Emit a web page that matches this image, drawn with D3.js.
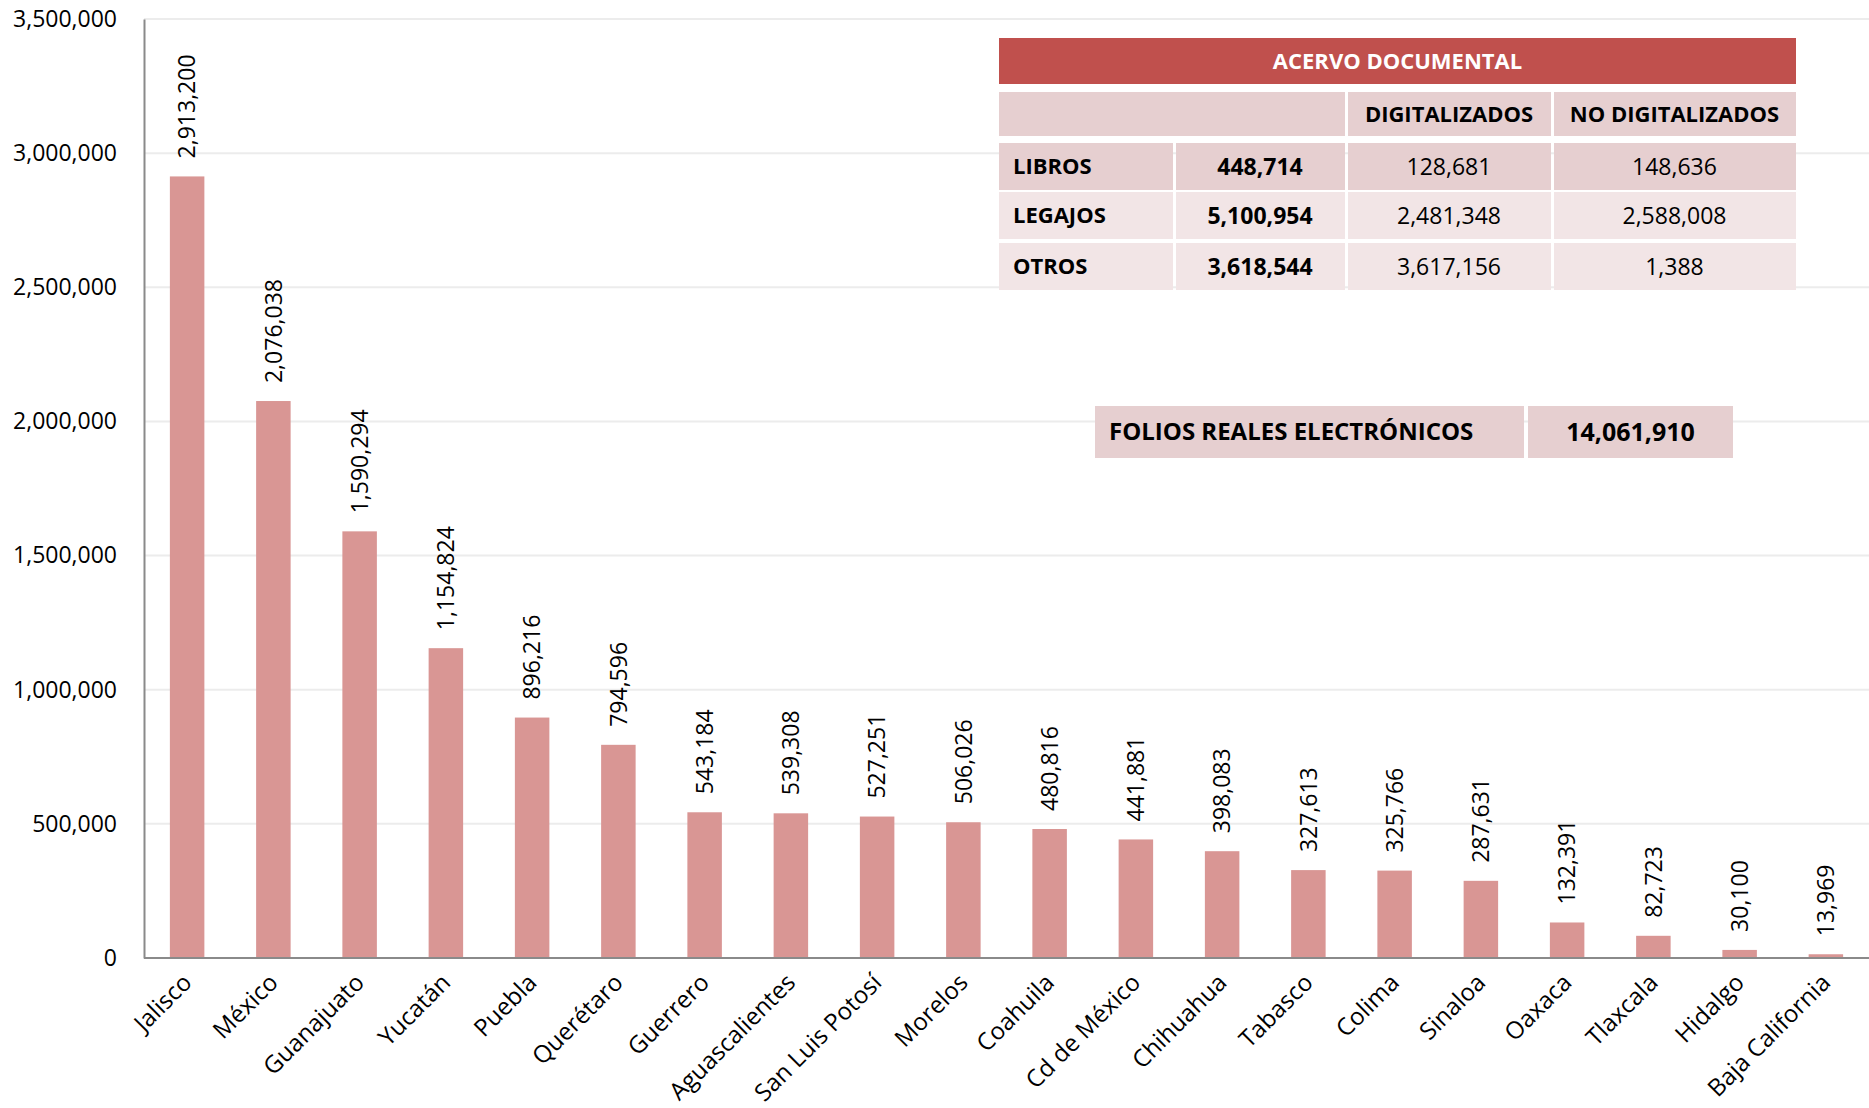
<!DOCTYPE html>
<html>
<head>
<meta charset="utf-8">
<script src="https://cdn.jsdelivr.net/npm/d3@7"></script>
<style>
  body { margin: 0; background: #fff; }
  .tick text { fill: #000; }
</style>
</head>
<body>
<div id="chart-area"></div>
<script>
// Data
const states = ["Jalisco", "México", "Guanajuato", "Yucatán", "Puebla", "Querétaro", "Guerrero",
  "Aguascalientes", "San Luis Potosí", "Morelos", "Coahuila", "Cd de México", "Chihuahua",
  "Tabasco", "Colima", "Sinaloa", "Oaxaca", "Tlaxcala", "Hidalgo", "Baja California"];
const folios = [2913200, 2076038, 1590294, 1154824, 896216, 794596, 543184, 539308, 527251,
  506026, 480816, 441881, 398083, 327613, 325766, 287631, 132391, 82723, 30100, 13969];
const yTicks = [0, 500000, 1000000, 1500000, 2000000, 2500000, 3000000, 3500000];

const tableTitle = "ACERVO DOCUMENTAL";
const tableHeads = ["", "DIGITALIZADOS", "NO DIGITALIZADOS"];
const tableRows = ["LIBROS", "LEGAJOS", "OTROS"];
const tableTotals = [448714, 5100954, 3618544];
const tableDigit = [128681, 2481348, 3617156];
const tableNoDigit = [148636, 2588008, 1388];
const foliosLabel = "FOLIOS REALES ELECTRÓNICOS";
const foliosTotal = 14061910;

const W = 1869, H = 1108;
const margin = {left: 144, right: 0, top: 19, bottom: 150};
const plotH = H - margin.top - margin.bottom; // 0 at y=958

const fmt = d3.format(",");
const sans = "'Open Sans', sans-serif";

const svg = d3.select("#chart-area").append("svg")
  .attr("width", W)
  .attr("height", H)
  .style("background", "#fff");

// Scales
const x = d3.scaleBand().domain(states)
  .range([margin.left, W - margin.right])
  .paddingInner(0.6).paddingOuter(0.3);
const y = d3.scaleLinear().domain([0, 3500000])
  .range([margin.top + plotH, margin.top]);

// Gridlines
svg.append("g").selectAll("line")
  .data(yTicks.filter(d => d > 0))
  .join("line")
  .attr("x1", margin.left).attr("x2", W)
  .attr("y1", d => y(d)).attr("y2", d => y(d))
  .attr("stroke", "#ececec")
  .attr("stroke-width", 2);

// Y axis
const yAxis = svg.append("g")
  .attr("transform", "translate(" + margin.left + ",0)")
  .call(d3.axisLeft(y).tickValues(yTicks).tickSize(0).tickPadding(27).tickFormat(fmt));
yAxis.select(".domain").attr("stroke", "#8a8a8a").attr("stroke-width", 2);
yAxis.selectAll("text").style("font-family", sans).style("font-size", "23px");

// Bars
svg.append("g").selectAll("rect")
  .data(folios)
  .join("rect")
  .attr("x", (d, i) => x(states[i]))
  .attr("width", x.bandwidth())
  .attr("y", d => y(d))
  .attr("height", d => y(0) - y(d))
  .attr("fill", "#d99694");

// X axis
const xAxis = svg.append("g")
  .attr("transform", "translate(0," + y(0) + ")")
  .call(d3.axisBottom(x).tickSize(0).tickPadding(0));
xAxis.select(".domain").attr("stroke", "#8a8a8a").attr("stroke-width", 2)
  .attr("d", "M" + margin.left + ",0H" + W);
xAxis.selectAll("text")
  .style("font-family", sans)
  .style("font-size", "24px")
  .attr("text-anchor", "end")
  .attr("dy", 0)
  .attr("transform", "translate(6,26) rotate(-45)");

// Value labels
svg.append("g").selectAll("text")
  .data(folios)
  .join("text")
  .attr("transform", (d, i) => "translate(" + (x(states[i]) + x.bandwidth() / 2) + "," + (y(d) - 18) + ") rotate(-90)")
  .attr("dy", "0.36em")
  .style("font-family", sans)
  .style("font-size", "23px")
  .attr("fill", "#000")
  .text(d => fmt(d));

/******************************** Table ********************************/
const colX = [999, 1173, 1345, 1551, 1796];
const gap = 3;
const table = svg.append("g").style("font-family", sans).style("font-size", "22px");

// Title bar
table.append("rect")
  .attr("x", colX[0]).attr("y", 38)
  .attr("width", colX[4] - colX[0]).attr("height", 46)
  .attr("fill", "#c0504d");
table.append("text")
  .attr("x", (colX[0] + colX[4]) / 2).attr("y", 61)
  .attr("dy", "0.35em").attr("text-anchor", "middle")
  .attr("fill", "#fff").style("font-weight", "bold")
  .text(tableTitle);

// Header row
const headCells = [[colX[0], colX[2]], [colX[2], colX[3]], [colX[3], colX[4]]];
table.append("g").selectAll("rect")
  .data(headCells)
  .join("rect")
  .attr("x", (d, i) => d[0] + (i > 0 ? gap : 0))
  .attr("width", (d, i) => d[1] - d[0] - (i > 0 ? gap : 0))
  .attr("y", 92).attr("height", 44)
  .attr("fill", "#e6cfd0");
table.append("g").selectAll("text")
  .data(tableHeads)
  .join("text")
  .attr("x", (d, i) => (headCells[i][0] + headCells[i][1]) / 2 + 1)
  .attr("y", 114).attr("dy", "0.35em")
  .attr("text-anchor", "middle").style("font-weight", "bold")
  .text(d => d);

// Body rows
const rowY = [143, 192, 243];
const rowH = 47;
const rowFill = ["#e6cfd0", "#f2e5e6", "#f2e5e6"];
const rows = table.append("g").selectAll("g")
  .data(tableRows)
  .join("g")
  .attr("transform", (d, i) => "translate(0," + rowY[i] + ")");
rows.each(function (label, i) {
  const r = d3.select(this);
  const vals = [null, tableTotals[i], tableDigit[i], tableNoDigit[i]];
  for (let c = 0; c < 4; c++) {
    r.append("rect")
      .attr("x", colX[c] + (c > 0 ? gap : 0))
      .attr("width", colX[c + 1] - colX[c] - (c > 0 ? gap : 0))
      .attr("height", rowH)
      .attr("fill", rowFill[i]);
  }
  r.append("text")
    .attr("x", colX[0] + 14).attr("y", rowH / 2).attr("dy", "0.35em")
    .style("font-weight", "bold").text(label);
  for (let c = 1; c < 4; c++) {
    r.append("text")
      .attr("x", (colX[c] + colX[c + 1]) / 2 + 1)
      .attr("y", rowH / 2).attr("dy", "0.35em")
      .attr("text-anchor", "middle")
      .style("font-size", "23px")
      .style("font-weight", c === 1 ? "bold" : "normal")
      .text(fmt(vals[c]));
  }
});

// Folios box
const folX = [1095, 1524, 1528, 1733];
const fol = svg.append("g").style("font-family", sans).style("font-weight", "bold");
fol.append("rect").attr("x", folX[0]).attr("y", 406).attr("width", folX[1] - folX[0]).attr("height", 52).attr("fill", "#e6cfd0");
fol.append("rect").attr("x", folX[2]).attr("y", 406).attr("width", folX[3] - folX[2]).attr("height", 52).attr("fill", "#e6cfd0");
fol.append("text").attr("x", folX[0] + 14).attr("y", 432).attr("dy", "0.35em")
  .style("font-size", "24px").text(foliosLabel);
fol.append("text").attr("x", (folX[2] + folX[3]) / 2).attr("y", 432).attr("dy", "0.35em")
  .attr("text-anchor", "middle").style("font-size", "25px").text(fmt(foliosTotal));
</script>
</body>
</html>
